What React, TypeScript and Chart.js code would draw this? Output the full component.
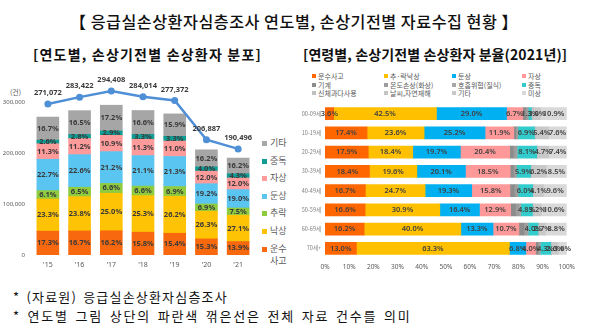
import React, { useEffect, useRef } from "react";
import { Chart, registerables } from "chart.js";
Chart.register(...registerables);

// ---------- Left chart data ----------
const years = ["'15", "'16", "'17", "'18", "'19", "'20", "'21"];
const totals = [271072, 283422, 294408, 284014, 277372, 206887, 190496];
const leftNames = ["운수사고", "낙상", "추락", "둔상", "자상", "중독", "기타"];
const pctTransport = [17.3, 16.7, 16.2, 15.8, 15.4, 15.3, 13.9];
const pctFall = [23.3, 23.8, 25.0, 25.3, 26.2, 26.3, 27.1];
const pctFallHeight = [6.1, 6.5, 6.6, 6.6, 6.9, 6.9, 7.5];
const pctBlunt = [22.7, 22.6, 21.2, 21.1, 21.3, 19.2, 19.0];
const pctStab = [11.3, 11.2, 10.9, 11.3, 11.0, 12.0, 12.0];
const pctPoison = [2.6, 2.8, 2.9, 3.3, 3.3, 4.0, 4.3];
const pctOther = [16.7, 16.5, 17.2, 16.6, 15.9, 16.2, 16.2];
const leftColors = ["#F8690F", "#FFC305", "#8FCB3F", "#5BC5F2", "#FF9B9B", "#0E9C94", "#A6A6A6"];
const leftLegendItems = ["기타", "중독", "자상", "둔상", "추락", "낙상", "운수\n사고"];
const leftYTicks = [0, 100000, 200000, 300000];

// ---------- Right chart data ----------
const ageGroups = ["00-09세", "10-19세", "20-29세", "30-39세", "40-49세", "50-59세", "60-69세", "70세+"];
const rightNames = ["운수사고", "추·락낙상", "둔상", "자상", "기계", "온도손상(화상)", "호흡위협(질식)", "중독", "신체과다사용", "날씨,자연재해", "기타", "미상"];
const rTransport = [3.6, 17.4, 17.9, 18.4, 16.7, 16.6, 16.2, 13.0];
const rFall = [42.5, 23.6, 18.4, 19.6, 24.7, 30.9, 40.0, 63.3];
const rBlunt = [29.0, 25.2, 19.7, 20.1, 19.3, 16.4, 13.3, 6.8];
const rStab = [6.7, 11.9, 20.4, 18.5, 15.8, 12.9, 10.7, 4.0];
const rMachine = [1.2, 0.8, 1.5, 1.3, 1.8, 2.0, 2.0, 1.0];
const rBurn = [0.8, 0.6, 1.2, 0.9, 1.1, 1.4, 1.3, 0.6];
const rChoke = [0.3, 0.3, 0.4, 0.4, 0.5, 0.8, 0.6, 0.4];
const rPoison = [1.3, 6.9, 8.1, 5.9, 6.0, 4.8, 4.0, 4.3];
const rOverexert = [0.5, 0.2, 0.2, 0.1, 0.3, 0.3, 0.3, 0.3];
const rWeather = [0.2, 0.1, 0.1, 0.1, 0.1, 0.1, 0.1, 0.1];
const rOther = [3.0, 5.4, 4.7, 6.2, 4.1, 3.2, 2.7, 2.6];
const rUnknown = [10.9, 7.6, 7.4, 8.5, 9.6, 10.6, 8.8, 3.6];
const rightColors = ["#FF6600", "#FFC000", "#00B0F0", "#FF9999", "#8C8C8C", "#9C9C9C", "#A6A6A6", "#33CCCC", "#BFBFBF", "#C4C4C4", "#C8C8C8", "#D9D9D9"];
const rightLabeled = [true, true, true, true, false, false, false, true, false, false, true, true];

const segLabelPlugin = {
  id: "segLabels",
  afterDatasetsDraw(chart: any) {
    const ctx = chart.ctx;
    chart.data.datasets.forEach((ds: any, i: number) => {
      const texts: string[] | undefined = ds.segLabels;
      if (!texts) return;
      const meta = chart.getDatasetMeta(i);
      if (meta.hidden) return;
      ctx.save();
      ctx.font = ds.segFont;
      ctx.fillStyle = ds.segColor;
      ctx.textAlign = "center";
      ctx.textBaseline = "middle";
      meta.data.forEach((el: any, j: number) => {
        const p = el.getProps(["x", "y", "base"], true);
        let x: number, y: number;
        if (meta.type === "line") {
          x = p.x;
          y = p.y - (ds.segOffset || 0);
        } else if (chart.options.indexAxis === "y") {
          x = (p.x + p.base) / 2;
          y = p.y;
        } else {
          x = p.x;
          y = (p.y + p.base) / 2;
        }
        ctx.fillText(texts[j], x, y);
      });
      ctx.restore();
    });
  },
};

const LABEL_FONT = "bold 7.5px 'Noto Sans', 'Liberation Sans', sans-serif";
const RIGHT_LABEL_FONT = "600 7.5px 'Noto Sans', 'Liberation Sans', sans-serif";
const TICK_COLOR = "#595959";

export default function App() {
  const leftRef = useRef<HTMLCanvasElement>(null);
  const rightRef = useRef<HTMLCanvasElement>(null);

  useEffect(() => {
    const leftPcts = [pctTransport, pctFall, pctFallHeight, pctBlunt, pctStab, pctPoison, pctOther];
    const leftDatasets: any[] = leftPcts.map((pct, k) => ({
      type: "bar",
      label: leftNames[k],
      data: totals.map((t, i) => (t * pct[i]) / 100),
      backgroundColor: leftColors[k],
      borderWidth: 0,
      barThickness: 22,
      yAxisID: "y",
      order: 1,
      segLabels: pct.map((v) => v.toFixed(1) + "%"),
      segFont: LABEL_FONT,
      segColor: "#3A3A3A",
    }));
    leftDatasets.push({
      type: "line",
      label: "전체",
      data: totals,
      borderColor: "#4F8FD6",
      backgroundColor: "#4F8FD6",
      borderWidth: 2.5,
      pointRadius: 3.5,
      pointBorderWidth: 0,
      pointBackgroundColor: "#4F8FD6",
      yAxisID: "y1",
      order: 0,
      clip: false,
      segLabels: totals.map((v) => v.toLocaleString("en-US")),
      segFont: LABEL_FONT,
      segColor: "#3A3A3A",
      segOffset: 11,
    });

    const c1 = new Chart(leftRef.current!, {
      type: "bar",
      data: { labels: years, datasets: leftDatasets },
      options: {
        responsive: false,
        animation: false,
        layout: { padding: { top: 12, right: 2, left: 0, bottom: 0 } },
        plugins: { legend: { display: false }, tooltip: { enabled: false } },
        scales: {
          x: {
            stacked: true,
            grid: { display: false, drawTicks: false },
            border: { display: false },
            ticks: { font: { size: 7, family: "'Noto Sans', sans-serif" }, color: TICK_COLOR, padding: 6 },
            afterFit: (s: any) => { s.height = 15; },
          },
          y: {
            stacked: true,
            min: 0,
            max: 340000,
            afterBuildTicks: (s: any) => { s.ticks = leftYTicks.map((v) => ({ value: v })); },
            ticks: {
              font: { size: 6, family: "'Noto Sans', sans-serif" },
              color: TICK_COLOR,
              padding: 7,
              callback: (v: any) => Number(v).toLocaleString("en-US"),
            },
            grid: { display: false, drawTicks: false },
            border: { display: false },
            afterFit: (s: any) => { s.width = 32; },
          },
          y1: { display: false, min: 0, max: 310600 },
        },
      } as any,
      plugins: [segLabelPlugin],
    });

    const rightVals = [rTransport, rFall, rBlunt, rStab, rMachine, rBurn, rChoke, rPoison, rOverexert, rWeather, rOther, rUnknown];
    const rightDatasets: any[] = rightVals.map((vals, k) => ({
      label: rightNames[k],
      data: vals,
      backgroundColor: rightColors[k],
      borderWidth: 0,
      barThickness: 12,
      segLabels: rightLabeled[k] ? vals.map((v) => v.toFixed(1) + "%") : undefined,
      segFont: RIGHT_LABEL_FONT,
      segColor: "#404040",
    }));

    const c2 = new Chart(rightRef.current!, {
      type: "bar",
      data: { labels: ageGroups, datasets: rightDatasets },
      options: {
        indexAxis: "y",
        responsive: false,
        animation: false,
        layout: { padding: { top: 9, right: 7, left: 0, bottom: 0 } },
        plugins: { legend: { display: false }, tooltip: { enabled: false } },
        scales: {
          x: {
            stacked: true,
            min: 0,
            max: 100,
            ticks: {
              stepSize: 10,
              font: { size: 6.5, family: "'Noto Sans', sans-serif" },
              color: TICK_COLOR,
              padding: 5,
              callback: (v: any) => v + "%",
            },
            grid: { display: false, drawTicks: false },
            border: { display: false },
            afterFit: (s: any) => { s.height = 15; },
          },
          y: {
            stacked: true,
            ticks: { font: { size: 5.5, family: "'Noto Sans CJK KR', sans-serif" }, color: "#7F7F7F", padding: 4 },
            grid: { display: false, drawTicks: false },
            border: { display: false },
            afterFit: (s: any) => { s.width = 35; },
          },
        },
      } as any,
      plugins: [segLabelPlugin],
    });

    return () => {
      c1.destroy();
      c2.destroy();
    };
  }, []);

  const kr = "'Noto Sans CJK KR', sans-serif";
  const legendColMarkers = [312, 384, 452, 522];
  const legendRowY = [76, 84.5, 93];
  const leftLegendY = [143, 161, 178, 196, 213, 231, 249];
  const leftLegendColors = ["#A6A6A6", "#0E9C94", "#FF9B9B", "#5BC5F2", "#8FCB3F", "#FFC305", "#F8690F"];

  return (
    <div style={{ position: "absolute", left: 0, top: 0, width: 600, height: 330, background: "#fff", overflow: "hidden", fontFamily: kr }}>
      <div style={{ position: "absolute", left: 0, top: 10, width: 588, textAlign: "center", fontSize: 16.2, lineHeight: "22px", letterSpacing: 0.5, color: "#111", fontWeight: 500, whiteSpace: "nowrap" }}>
        【 응급실손상환자심층조사 연도별, 손상기전별 자료수집 현황 】
      </div>
      <div style={{ position: "absolute", left: 33, top: 44, fontSize: 14, lineHeight: "20px", fontWeight: 700, letterSpacing: 1.2, color: "#111", whiteSpace: "nowrap" }}>
        [연도별, 손상기전별 손상환자 분포]
      </div>
      <div style={{ position: "absolute", left: 303, top: 44, fontSize: 14, lineHeight: "20px", fontWeight: 700, letterSpacing: 0.1, color: "#111", whiteSpace: "nowrap" }}>
        [연령별, 손상기전별 손상환자 분율(2021년)]
      </div>

      <span style={{ position: "absolute", left: 10, top: 86, fontSize: 7, lineHeight: "12px", color: TICK_COLOR }}>(건)</span>
      <canvas ref={leftRef} width={258} height={200} style={{ position: "absolute", left: 0, top: 70 }} />
      {leftLegendItems.map((t, i) => (
        <div key={t} style={{ position: "absolute", left: 262, top: leftLegendY[i] - 6, height: 12, display: "flex", alignItems: "flex-start" }}>
          <span style={{ display: "inline-block", width: 5, height: 5, marginTop: 3.5, background: leftLegendColors[i] }} />
          <span style={{ marginLeft: 3, fontSize: 9, lineHeight: "12px", color: TICK_COLOR, whiteSpace: "pre" }}>{t}</span>
        </div>
      ))}

      {rightNames.map((t, i) => (
        <div key={t} style={{ position: "absolute", left: legendColMarkers[i % 4], top: legendRowY[Math.floor(i / 4)] - 5, height: 10, display: "flex", alignItems: "center", whiteSpace: "nowrap" }}>
          <span style={{ display: "inline-block", width: 4, height: 4, background: rightColors[i] }} />
          <span style={{ marginLeft: 2, fontSize: 7, lineHeight: "10px", color: TICK_COLOR }}>{t}</span>
        </div>
      ))}
      <canvas ref={rightRef} width={290} height={178} style={{ position: "absolute", left: 290, top: 95 }} />

      <div style={{ position: "absolute", left: 13, top: 287, fontSize: 13, lineHeight: "20px", letterSpacing: 1.2, wordSpacing: 2, color: "#111", whiteSpace: "nowrap" }}>
        * (자료원) 응급실손상환자심층조사
      </div>
      <div style={{ position: "absolute", left: 13, top: 306, fontSize: 13, lineHeight: "20px", letterSpacing: 1.8, wordSpacing: 2, color: "#111", whiteSpace: "nowrap" }}>
        * 연도별 그림 상단의 파란색 꺾은선은 전체 자료 건수를 의미
      </div>
    </div>
  );
}
